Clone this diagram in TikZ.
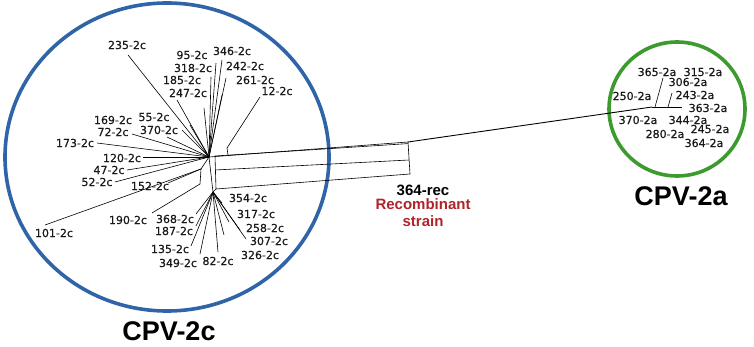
\documentclass[tikz,border=0pt]{standalone}
\usepackage{fontspec}
\usepackage{xcolor}
\usetikzlibrary{positioning,calc}
\newfontfamily\leaffont[FakeBold=0.5]{DejaVu Sans}
\newfontfamily\headfont{Liberation Sans}
\definecolor{cladeblue}{HTML}{2F64A8}
\definecolor{cladegreen}{HTML}{3D9A2F}
\definecolor{recred}{HTML}{B0232A}

\begin{document}
\begin{tikzpicture}[
  x=1pt, y=-1pt,
  leaf/.style={font=\leaffont\fontsize{11}{12}\selectfont, inner sep=0pt, text=black!90},
  branch/.style={line width=0.6pt},
  clade/.style={line width=3.6pt},
  cpv/.style={font=\headfont\bfseries\fontsize{27}{30}\selectfont, inner sep=0pt},
  rec/.style={font=\headfont\bfseries\fontsize{15}{17}\selectfont, inner sep=0pt, align=center},
]
\useasboundingbox (0,0) rectangle (754,347);

% Cluster outlines.
\draw[clade, cladeblue] (167,157) ellipse [x radius=162, y radius=154];
\draw[clade, cladegreen] (677,109) ellipse [x radius=68, y radius=67];

% Internal points of the network.
\coordinate (hub) at (209,157);
\coordinate (low) at (213,192);
\coordinate (in1) at (201,169);
\coordinate (in2) at (200,184);
\coordinate (boxtl) at (215,156);
\coordinate (boxtr) at (408,142);
\coordinate (boxbr) at (410,174);
\coordinate (boxbl) at (216,189);
\coordinate (midl) at (215,170);
\coordinate (midr) at (409,160);
\coordinate (j12) at (228,155);
\coordinate (ghub) at (652,107);
\coordinate (gend) at (682,107);
\coordinate (g1) at (655,107);
\coordinate (g2) at (668,107);

% CPV-2c leaves on the upper hub.
\foreach \id/\lx/\ly/\ex/\ey in {235/127/45/128/55, 95/192/55/216/63, 346/232/51/222/60,
    318/193/68/211/77, 242/245/66/226/78, 185/182/80/177/100, 261/255/80/222/95,
    247/188/93/204/108, 169/113/120/190/125, 55/154/117/182/130, 72/113/132/132/134,
    370/159/130/167/137, 173/75/143/97/143, 120/122/158/143/157, 47/109/170/127/170,
    52/97/182/115/182} {
  \node[leaf] (c\id) at (\lx,\ly) {\id-2c};
  \coordinate (e\id) at (\ex,\ey);
  \draw[branch] (hub) -- (e\id);
}

% Leaves on the small side branch.
\node[leaf] (c101) at (54,233) {101-2c};
\node[leaf] (c152) at (150,186) {152-2c};
\node[leaf] (c190) at (128,220) {190-2c};
\coordinate (e101) at (45,225);
\coordinate (e152) at (168,183);
\coordinate (e190) at (152,213);
\draw[branch] (hub) -- (in1) -- (in2);
\draw[branch] (in1) -- (e101);
\draw[branch] (in1) -- (e152);
\draw[branch] (in2) -- (e190);

% 12-2c joins the top of the long box.
\node[leaf] (c12) at (277,91) {12-2c};
\coordinate (e12) at (260,97);
\draw[branch] (e12) -- (227,148) -- (j12);

% CPV-2c leaves on the lower hub.
\foreach \id/\lx/\ly/\ex/\ey in {368/175/219/196/214, 187/174/231/196/226,
    135/170/249/191/246, 349/178/263/200/254, 82/218/261/218/252,
    354/248/198/222/203, 317/256/214/229/222, 326/260/255/224/235,
    258/265/228/240/230, 307/269/241/246/239} {
  \node[leaf] (c\id) at (\lx,\ly) {\id-2c};
  \coordinate (e\id) at (\ex,\ey);
  \draw[branch] (low) -- (e\id);
}

% Long box towards the recombinant and the CPV-2a cluster.
\draw[branch] (hub) -- (low);
\draw[branch] (hub) -- (boxtr);
\draw[branch] (boxtl) -- ($(boxtr)+(0,1.6)$);
\draw[branch] (midl) -- (midr);
\draw[branch] (boxtl) -- (boxbl) -- (boxbr) -- (boxtr);
\draw[branch] (low) -- (boxbl);
\draw[line width=0.9pt] (boxtr) -- (ghub);

% CPV-2a cluster.
\draw[branch] (ghub) -- (gend);
\draw[branch] (g1) -- (663,78);
\draw[branch] (g2) -- (672,93);
\foreach \id/\lx/\ly in {365/657/72, 315/703/72, 306/688/82, 250/632/96,
    243/695/95, 363/708/108, 370/638/120, 344/688/120, 280/665/134,
    245/710/129, 364/704/143} {
  \node[leaf] (a\id) at (\lx,\ly) {\id-2a};
}

% Cluster names and the recombinant.
\node[cpv, anchor=base] (name2c) at (169,340) {CPV-2c};
\node[cpv] (name2a) at (681,196) {CPV-2a};
\node[rec] (recid) at (423,190) {364-rec};
\node[rec, text=recred, below=3pt of recid] (recname) {Recombinant\\strain};

\end{tikzpicture}
\end{document}
